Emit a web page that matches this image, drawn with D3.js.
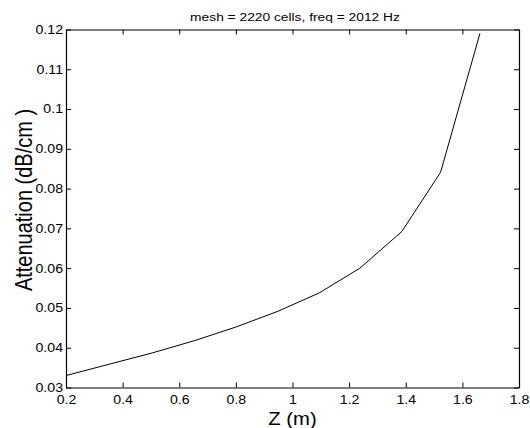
<!DOCTYPE html>
<html>
<head>
<meta charset="utf-8">
<script src="https://cdn.jsdelivr.net/npm/d3@7"></script>
<style>
html,body{margin:0;padding:0;background:#fff;}
svg{display:block;font-family:"Liberation Sans",Arial,sans-serif;}
</style>
</head>
<body>
<svg id="chart" width="530" height="428"></svg>
<script>
const zValues = [0.2, 0.355, 0.505, 0.655, 0.80, 0.95, 1.095, 1.238, 1.386, 1.523, 1.662];
const attenuation = [0.033, 0.0359, 0.0387, 0.0418, 0.0452, 0.0492, 0.0538, 0.0600, 0.0692, 0.0841, 0.119];
const xTicks = [0.2, 0.4, 0.6, 0.8, 1, 1.2, 1.4, 1.6, 1.8];
const yTicks = [0.03, 0.04, 0.05, 0.06, 0.07, 0.08, 0.09, 0.1, 0.11, 0.12];
const titleText = "mesh = 2220 cells, freq = 2012 Hz";
const xLabel = "Z (m)";
const yLabel = "Attenuation (dB/cm )";

const svg = d3.select("#chart");
const L = 66, R = 519, T = 29.5, B = 387.5;
const SX = 1.18; // horizontal stretch of the reference's glyphs
const x = d3.scaleLinear().domain([0.2, 1.8]).range([L, R]);
const y = d3.scaleLinear().domain([0.03, 0.12]).range([B, T]);
const fmt = d => String(+d.toFixed(2));

const gb = svg.append("g").attr("transform", `translate(0,${B})`)
  .call(d3.axisBottom(x).tickValues(xTicks).tickFormat(fmt).tickSizeInner(-5).tickSizeOuter(0).tickPadding(8));
const gt = svg.append("g").attr("transform", `translate(0,${T})`)
  .call(d3.axisTop(x).tickValues(xTicks).tickFormat("").tickSizeInner(-5).tickSizeOuter(0));
const gl = svg.append("g").attr("transform", `translate(${L},0)`)
  .call(d3.axisLeft(y).tickValues(yTicks).tickFormat(fmt).tickSizeInner(-5).tickSizeOuter(0).tickPadding(8));
const gr = svg.append("g").attr("transform", `translate(${R},0)`)
  .call(d3.axisRight(y).tickValues(yTicks).tickFormat("").tickSizeInner(-5).tickSizeOuter(0));

[gb, gt, gl, gr].forEach(g => {
  g.select(".domain").attr("stroke", "#000").attr("stroke-width", 1.2);
  g.selectAll(".tick line").attr("stroke", "#000").attr("stroke-width", 1);
  g.selectAll("text").attr("fill", "#000").attr("font-size", 12)
    .attr("font-family", "'Liberation Sans', Arial, sans-serif");
});
gb.selectAll("text").attr("transform", `scale(${SX},1)`);
gl.selectAll("text").attr("x", -3 / SX).attr("transform", `scale(${SX},1)`);

const data = zValues.map((z, i) => ({z, a: attenuation[i]}));
svg.append("path").datum(data)
  .attr("fill", "none").attr("stroke", "#000").attr("stroke-width", 1)
  .attr("d", d3.line().x(d => x(d.z)).y(d => y(d.a)));

svg.append("text")
  .attr("transform", `translate(295,21) scale(1.22,1)`)
  .attr("text-anchor", "middle").attr("font-size", 11.3).attr("fill", "#000")
  .text(titleText);
svg.append("text")
  .attr("transform", `translate(${(L + R) / 2},425) scale(1.09,1)`)
  .attr("text-anchor", "middle").attr("font-size", 18.6).attr("fill", "#000")
  .text(xLabel);
svg.append("text")
  .attr("transform", `translate(31.5,200) rotate(-90) scale(1,1.2)`)
  .attr("text-anchor", "middle").attr("font-size", 20).attr("fill", "#000")
  .text(yLabel);
</script>
</body>
</html>
